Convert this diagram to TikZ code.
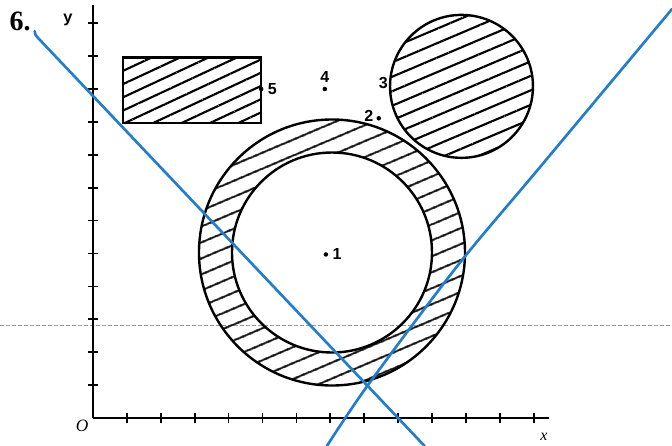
\documentclass[tikz,border=0pt]{standalone}
\usepackage{fontspec}
\setmainfont{Liberation Serif}
\newfontfamily\pointfont{Liberation Sans}
\newfontfamily\axisfont{Liberation Mono}
\usetikzlibrary{positioning,patterns.meta}
\definecolor{penBlue}{RGB}{35,125,205}
\definecolor{foldGray}{RGB}{150,150,150}
\tikzset{
  axis line/.style={line width=1.5pt,draw=black},
  tick mark/.style={line width=1.3pt,draw=black},
  region edge/.style={line width=1.8pt,draw=black},
  hatch wide/.style={pattern={Lines[angle=23,distance=10.5pt,line width=1.6pt]},pattern color=black},
  hatch tight/.style={pattern={Lines[angle=23,distance=10pt,line width=1.6pt]},pattern color=black},
  hatch box/.style={pattern={Lines[angle=25,distance=9pt,line width=1.6pt]},pattern color=black},
  pen line/.style={line width=2pt,draw=penBlue,line cap=round,line join=round},
  fold line/.style={draw=foldGray,line width=0.5pt,dash pattern=on 3pt off 1.5pt},
  point dot/.style={circle,fill=black,inner sep=0pt,minimum size=3.4pt},
  point label/.style={font=\pointfont\bfseries\fontsize{12}{12}\selectfont,inner sep=0.5pt},
  axis label/.style={font=\itshape\fontsize{13}{13}\selectfont,inner sep=0pt}
}

\begin{document}
\begin{tikzpicture}
  \useasboundingbox (0,0) rectangle (504pt,334.5pt);
  % fold of the scanned page
  \draw[fold line] (0,90.75pt) -- (504pt,90.75pt);
  \begin{scope}[shift={(69.75pt,21pt)},x=25.425pt,y=24.675pt]
    % hatched regions
    \coordinate (ring) at (7.05,5.03);
    \coordinate (disc) at (10.87,10.08);
    \fill[hatch wide,even odd rule] (ring) circle[radius=99.75pt] (ring) circle[radius=75pt];
    \draw[region edge] (ring) circle[radius=99.75pt];
    \draw[region edge] (ring) circle[radius=75pt];
    \fill[hatch tight] (disc) circle[radius=53.6pt];
    \draw[region edge] (disc) circle[radius=53.6pt];
    \draw[region edge,hatch box] (0.88,8.96) rectangle (4.96,10.96);
    % axes and ticks
    \coordinate (origin) at (0,0);
    \coordinate (xend) at (13.45,0);
    \coordinate (yend) at (0,12.55);
    \draw[axis line] (origin) -- (xend);
    \draw[axis line] (origin) -- (yend);
    \foreach \i in {1,...,13}
      \draw[tick mark] (\i,0) ++(0,-4pt) -- ++(0,8pt);
    \foreach \j in {1,...,12}
      \draw[tick mark] (0,\j) ++(-3.5pt,0) -- ++(7pt,0);
    \node[axis label] (olabel) at (-0.32,-0.24) {O};
    \node[axis label,font=\itshape\fontsize{12}{12}\selectfont] (xlabel) at (13.30,-0.58) {x};
    \node[font=\axisfont\bfseries\fontsize{12}{12}\selectfont,inner sep=0pt] (ylabel) at (-0.74,12.10) {y};
    \node[font=\bfseries\fontsize{21}{21}\selectfont,inner sep=0pt] (number) at (-2.15,12.06) {6.};
    % points
    \node[point dot] (p1) at (6.87,4.97) {};
    \node[point label,right=2.5pt of p1] (l1) {1};
    \node[point dot] (p2) at (8.43,9.11) {};
    \node[point label,left=1.5pt of p2,yshift=2pt] (l2) {2};
    \coordinate (p3) at (8.76,10.18);
    \node[point label,left=1pt of p3] (l3) {3};
    \node[point dot] (p4) at (6.84,10.0) {};
    \node[point label,above=2pt of p4] (l4) {4};
    \node[point dot] (p5) at (4.96,10.0) {};
    \node[point label,right=2.5pt of p5] (l5) {5};
    % pen lines
    \coordinate (penA) at (-1.72,11.76);
    \coordinate (penB) at (9.78,-0.85);
    \draw[pen line] (penA) .. controls (-1.70,11.64) .. (-1.62,11.55) -- (penB);
    \draw[pen line] plot[smooth,tension=0.5] coordinates
      {(17.08,12.43) (13.19,7.63) (10.77,4.65) (8.11,1.00) (6.90,-0.85)};
  \end{scope}
\end{tikzpicture}
\end{document}
